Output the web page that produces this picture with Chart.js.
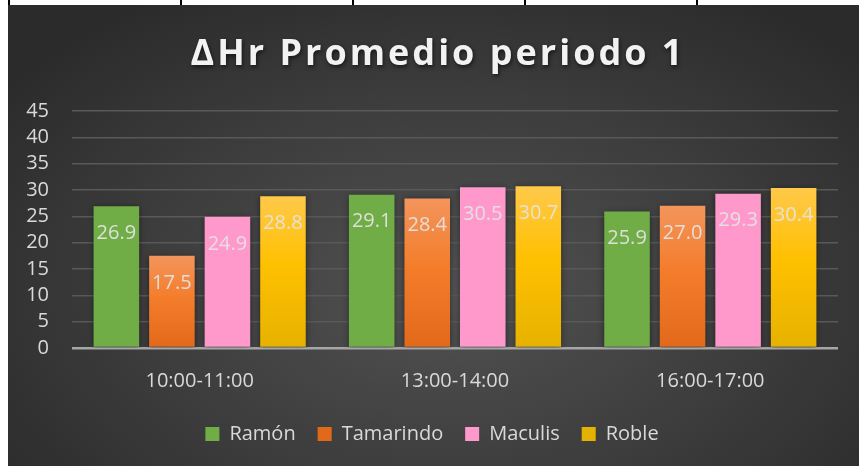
<!DOCTYPE html>
<html>
<head>
<meta charset="utf-8">
<title>ΔHr Promedio periodo 1</title>
<script src="https://cdn.jsdelivr.net/npm/chart.js@4/dist/chart.umd.min.js"></script>
<style>
  body { margin: 0; background: #fff; }
  .cell-line { position: absolute; top: 0; width: 2px; height: 5px; background: #000; }
  #panel {
    position: absolute; left: 8px; top: 5px; width: 851px; height: 461px;
    background: radial-gradient(ellipse 65% 75% at 52% 62%, #525252 0%, #3d3d3d 55%, #2b2b2b 100%);
  }
</style>
</head>
<body>
<div class="cell-line" style="left:8px"></div>
<div class="cell-line" style="left:180px"></div>
<div class="cell-line" style="left:352px"></div>
<div class="cell-line" style="left:524px"></div>
<div class="cell-line" style="left:696px"></div>
<div id="panel"><canvas id="hr-chart" width="851" height="461"></canvas></div>
<script>
const chartTitle = "ΔHr Promedio periodo 1";
const periods = ["10:00-11:00", "13:00-14:00", "16:00-17:00"];
const ramon = [26.9, 29.1, 25.9];
const tamarindo = [17.5, 28.4, 27.0];
const maculis = [24.9, 30.5, 29.3];
const roble = [28.8, 30.7, 30.4];
const yMax = 45;
const yStep = 5;

Chart.defaults.font.family = "'Open Sans', sans-serif";
Chart.defaults.color = "#d9d9d9";

// vertical gradient over each bar, from its top down to zero
function barGradient(top, mid, bottom) {
  return function (context) {
    const chart = context.chart;
    if (!chart.chartArea || context.type !== "data") return mid;
    const y = chart.scales.y;
    const yTop = y.getPixelForValue(context.parsed.y);
    const yBase = y.getPixelForValue(0);
    const g = chart.ctx.createLinearGradient(0, yTop, 0, yBase);
    g.addColorStop(0, top);
    g.addColorStop(0.45, mid);
    g.addColorStop(1, bottom);
    return g;
  };
}

// spaced, shadowed title on top of the panel
const titlePlugin = {
  id: "spacedTitle",
  afterDraw(chart) {
    const ctx = chart.ctx;
    ctx.save();
    ctx.font = "bold 36px 'Open Sans', sans-serif";
    ctx.letterSpacing = "3px";
    ctx.textAlign = "center";
    ctx.textBaseline = "alphabetic";
    ctx.fillStyle = "#f2f2f2";
    ctx.shadowColor = "rgba(0,0,0,0.6)";
    ctx.shadowBlur = 4;
    ctx.shadowOffsetX = 1;
    ctx.shadowOffsetY = 2;
    ctx.fillText(chartTitle, 430, 60);
    ctx.restore();
  }
};

// soft shadow behind the bars
const barShadow = {
  id: "barShadow",
  beforeDatasetsDraw(chart) {
    const ctx = chart.ctx;
    ctx.save();
    ctx.shadowColor = "rgba(0,0,0,0.45)";
    ctx.shadowBlur = 6;
    ctx.shadowOffsetY = 1;
  },
  afterDatasetsDraw(chart) {
    chart.ctx.restore();
  }
};

// value written just inside the top of each bar
const valueLabels = {
  id: "valueLabels",
  afterDatasetsDraw(chart) {
    const ctx = chart.ctx;
    ctx.save();
    ctx.font = "20px 'Open Sans', sans-serif";
    ctx.fillStyle = "rgba(228,228,228,0.92)";
    ctx.textAlign = "center";
    ctx.textBaseline = "middle";
    chart.data.datasets.forEach(function (ds, i) {
      chart.getDatasetMeta(i).data.forEach(function (bar, j) {
        ctx.fillText(ds.data[j].toFixed(1), bar.x, bar.y + 27);
      });
    });
    ctx.restore();
  }
};

const ctx = document.getElementById("hr-chart").getContext("2d");
new Chart(ctx, {
  type: "bar",
  data: {
    labels: periods,
    datasets: [
      { label: "Ramón", data: ramon, backgroundColor: "#70ad47" },
      { label: "Tamarindo", data: tamarindo, backgroundColor: barGradient("#f3955c", "#f47d2c", "#e2691a") },
      { label: "Maculis", data: maculis, backgroundColor: "#ff99cc" },
      { label: "Roble", data: roble, backgroundColor: barGradient("#ffc94a", "#ffc000", "#e6b200") }
    ]
  },
  options: {
    responsive: false,
    animation: false,
    categoryPercentage: 0.87,
    barPercentage: 0.82,
    layout: { padding: { top: 106, left: 18, right: 21, bottom: 12 } },
    plugins: {
      title: { display: false },
      tooltip: { enabled: false },
      legend: {
        position: "bottom",
        labels: {
          boxWidth: 14,
          boxHeight: 14,
          padding: 22,
          color: "#d9d9d9",
          font: { size: 20 }
        }
      }
    },
    scales: {
      x: {
        grid: { display: false },
        border: { display: false },
        ticks: { padding: 13, color: "#d9d9d9", font: { size: 20 } },
        afterFit: function (scale) { scale.height = 54; }
      },
      y: {
        min: 0,
        max: yMax,
        border: { display: false },
        grid: {
          drawTicks: false,
          color: function (c) { return c.index === 0 ? "#a6a6a6" : "#595959"; },
          lineWidth: function (c) { return c.index === 0 ? 2.5 : 1.5; }
        },
        ticks: { stepSize: yStep, autoSkip: false, padding: 23, color: "#d9d9d9", font: { size: 20 } },
        afterFit: function (scale) { scale.width = 46; }
      }
    }
  },
  plugins: [titlePlugin, barShadow, valueLabels]
});
</script>
</body>
</html>
